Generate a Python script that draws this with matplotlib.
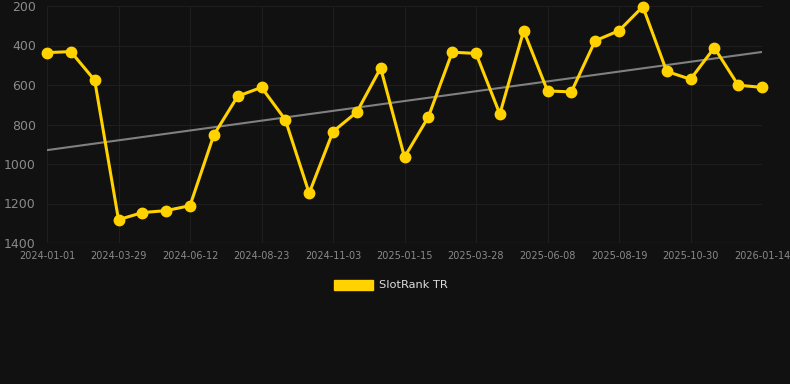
import numpy as np
import matplotlib
matplotlib.use("Agg")
import matplotlib.pyplot as plt
from matplotlib.patches import Patch

dates = ["2024-01-01", "2024-03-29", "2024-06-12", "2024-08-23", "2024-11-03",
         "2025-01-15", "2025-03-28", "2025-06-08", "2025-08-19", "2025-10-30",
         "2026-01-14"]
ranks = [436, 431, 576, 1282, 1246, 1236, 1211, 853, 657, 612,
         776, 1148, 836, 737, 514, 965, 762, 434, 440, 747,
         325, 630, 635, 376, 325, 203, 531, 571, 411, 601, 612]
series_name = "SlotRank TR"
y_ticks = [200, 400, 600, 800, 1000, 1200, 1400]

BG = "#111111"
GOLD = "#FFD200"
TXT = "#8a8a8a"
GRID = "#1e1e1e"

fig = plt.figure(figsize=(7.9, 3.84), dpi=100, facecolor=BG)
ax = fig.add_axes([47/790, 1 - 243/384, (762-47)/790, (243-6)/384])
ax.set_facecolor(BG)

x = np.arange(len(ranks))
coef = np.polyfit(x, ranks, 1)
ax.plot(x, np.polyval(coef, x), color="#808080", lw=1.5, zorder=2)
ax.plot(x, ranks, color=GOLD, lw=2.2, marker="o", ms=7.5, zorder=3,
        solid_joinstyle="round", clip_on=False)

ax.set_xlim(0, len(ranks) - 1)
ax.set_ylim(1400, 200)
ax.set_yticks(y_ticks)
ax.set_yticklabels([str(v) for v in y_ticks])
ax.set_xticks(np.arange(0, len(ranks), 3))
ax.set_xticklabels(dates)
ax.tick_params(axis="y", colors=TXT, labelsize=9, length=0, pad=8)
ax.tick_params(axis="x", colors=TXT, labelsize=7, length=0, pad=6)
ax.grid(True, color=GRID, lw=0.8)
ax.set_axisbelow(True)
for s in ax.spines.values():
    s.set_visible(False)
ax.axhline(1400, color="#262626", lw=1, zorder=1)

leg = fig.legend(handles=[Patch(facecolor=GOLD, edgecolor=GOLD, label=series_name)],
                 loc="center", bbox_to_anchor=(391/790, 1 - 285/384), frameon=False,
                 fontsize=8.2, handlelength=3.4, handleheight=1.0, handletextpad=0.5,
                 labelcolor="#dddddd")

fig.savefig("out.png", dpi=100, facecolor=BG)
